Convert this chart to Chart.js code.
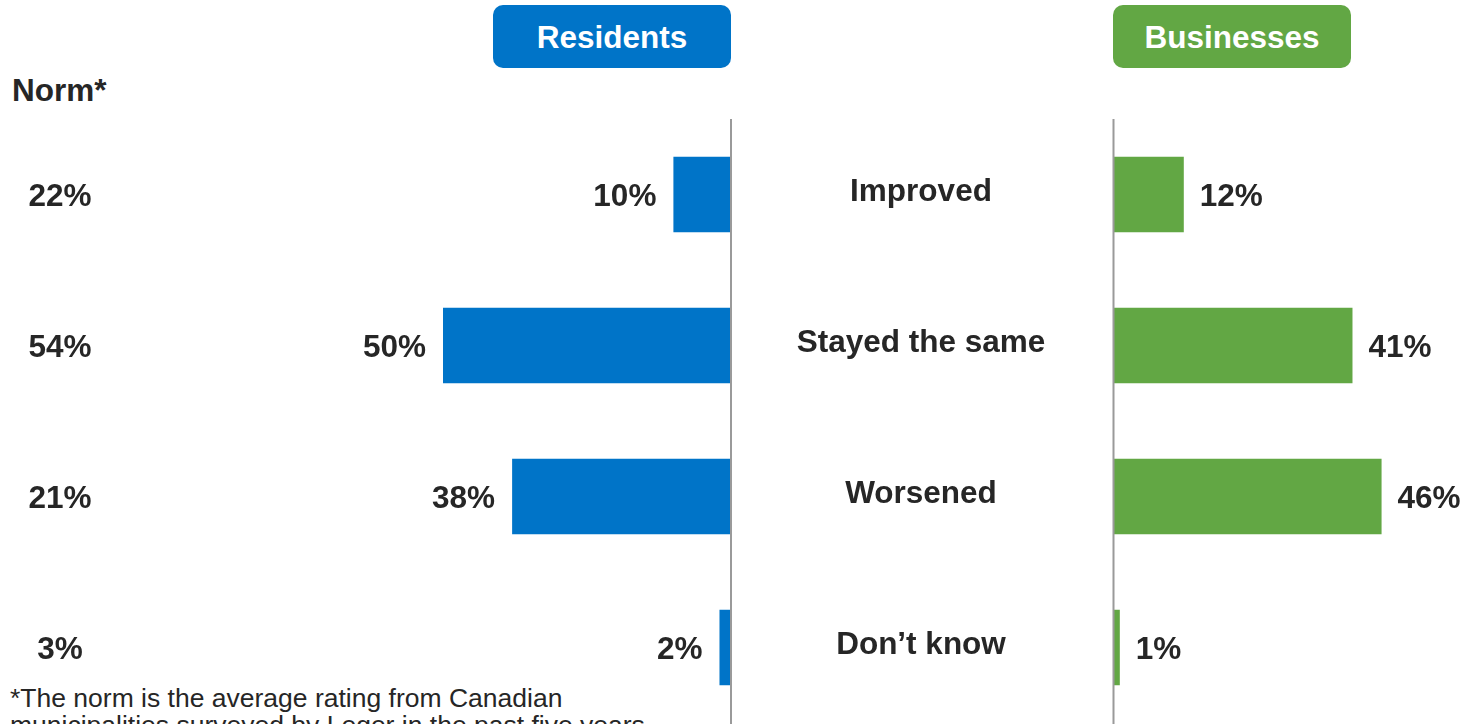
<!DOCTYPE html>
<html>
<head>
<meta charset="utf-8">
<script src="https://cdn.jsdelivr.net/npm/chart.js@4/dist/chart.umd.min.js"></script>
<style>
  html, body { margin: 0; padding: 0; background: #fff; overflow: hidden; }
  body { width: 1466px; height: 724px; position: relative; font-family: "Liberation Sans", Arial, sans-serif; color: #262626; }
  canvas { position: absolute; left: 0; top: 0; }
  .head { position: absolute; top: 5px; width: 238px; height: 63px; border-radius: 10px; color: #fff;
          font-weight: bold; font-size: 31.5px; display: flex; align-items: center; justify-content: center; padding-top: 2px; box-sizing: border-box; }
  #norm { position: absolute; left: 12px; top: 75px; font-weight: bold; font-size: 31.5px; line-height: 31.5px; }
  #note { position: absolute; left: 10px; top: 685px; font-size: 26.5px; line-height: 27px; white-space: nowrap; }
</style>
</head>
<body>
<div class="head" style="left:493px; background:#0074C8;">Residents</div>
<div class="head" style="left:1113px; background:#62A744;">Businesses</div>
<div id="norm">Norm*</div>
<div id="note">*The norm is the average rating from Canadian<br>municipalities surveyed by Leger in the past five years.</div>
<canvas id="resChart" width="1466" height="724"></canvas>
<canvas id="busChart" width="1466" height="724"></canvas>
<script>
// Datos del gráfico
const categories = ['Improved', 'Stayed the same', 'Worsened', 'Don\u2019t know'];
const residents = [10, 50, 38, 2];
const businesses = [12, 41, 46, 1];
const norm = [22, 54, 21, 3];

const labelFont = 'bold 31.5px "Liberation Sans", Arial, sans-serif';
const textColor = '#262626';
const lineColor = '#9a9a9a';

// Etiquetas de residentes + columna de norma + línea del eje
const residentLabels = {
    id: 'residentLabels',
    afterDatasetsDraw(chart) {
        const ctx = chart.ctx;
        const meta = chart.getDatasetMeta(0);
        const yScale = chart.scales.y;
        ctx.save();
        ctx.font = labelFont;
        ctx.fillStyle = textColor;
        ctx.textBaseline = 'middle';
        meta.data.forEach((bar, i) => {
            ctx.textAlign = 'right';
            ctx.fillText(residents[i] + '%', bar.x - 17, bar.y + 3);
            ctx.textAlign = 'center';
            ctx.fillText(norm[i] + '%', 60, yScale.getPixelForValue(i) + 3);
        });
        ctx.strokeStyle = lineColor;
        ctx.lineWidth = 2;
        ctx.beginPath();
        ctx.moveTo(chart.chartArea.right, chart.chartArea.top);
        ctx.lineTo(chart.chartArea.right, chart.height);
        ctx.stroke();
        ctx.restore();
    }
};

// Etiquetas de empresas + categorías al centro + línea del eje
const businessLabels = {
    id: 'businessLabels',
    afterDatasetsDraw(chart) {
        const ctx = chart.ctx;
        const meta = chart.getDatasetMeta(0);
        const yScale = chart.scales.y;
        ctx.save();
        ctx.font = labelFont;
        ctx.fillStyle = textColor;
        ctx.textBaseline = 'middle';
        meta.data.forEach((bar, i) => {
            ctx.textAlign = 'left';
            ctx.fillText(businesses[i] + '%', bar.x + 16, bar.y + 3);
            ctx.textAlign = 'center';
            ctx.fillText(categories[i], 921, yScale.getPixelForValue(i) - 2);
        });
        ctx.strokeStyle = lineColor;
        ctx.lineWidth = 2;
        ctx.beginPath();
        ctx.moveTo(chart.chartArea.left - 0.5, chart.chartArea.top);
        ctx.lineTo(chart.chartArea.left - 0.5, chart.height);
        ctx.stroke();
        ctx.restore();
    }
};

function makeOptions(reverse, max, padding) {
    return {
        indexAxis: 'y',
        responsive: false,
        animation: false,
        devicePixelRatio: 1,
        layout: { padding: padding },
        plugins: { legend: { display: false }, tooltip: { enabled: false } },
        scales: {
            x: { display: false, min: 0, max: max, reverse: reverse },
            y: { display: false }
        }
    };
}

new Chart(document.getElementById('resChart').getContext('2d'), {
    type: 'bar',
    data: {
        labels: categories,
        datasets: [{
            label: 'Residents',
            data: residents,
            backgroundColor: '#0074C8',
            barPercentage: 0.5,
            categoryPercentage: 1
        }]
    },
    options: makeOptions(true, 100, { left: 155, right: 735, top: 119, bottom: 1 }),
    plugins: [residentLabels]
});

new Chart(document.getElementById('busChart').getContext('2d'), {
    type: 'bar',
    data: {
        labels: categories,
        datasets: [{
            label: 'Businesses',
            data: businesses,
            backgroundColor: '#62A744',
            barPercentage: 0.5,
            categoryPercentage: 1
        }]
    },
    options: makeOptions(false, 60, { left: 1114, right: 3, top: 119, bottom: 1 }),
    plugins: [businessLabels]
});
</script>
</body>
</html>
